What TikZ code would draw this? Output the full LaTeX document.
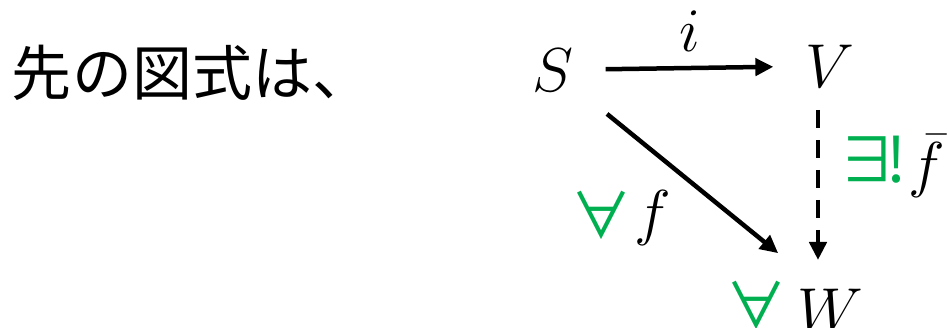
\RequirePackage{fix-cm}
\documentclass[tikz,border=0pt]{standalone}
\usepackage{fontspec}
\newfontfamily\jpfont{Noto Sans CJK JP}
\usetikzlibrary{arrows.meta}
\definecolor{qgreen}{RGB}{0,176,80}
\tikzset{
  obj/.style={inner sep=0pt,font=\fontsize{62}{70}\selectfont},
  lbl/.style={inner sep=0pt,font=\fontsize{62}{70}\selectfont},
  qsym/.style={inner sep=0pt,text=qgreen,font=\fontsize{62}{70}\selectfont\jpfont},
  arr/.style={line width=4.5pt,-{Triangle[length=18pt,width=17pt]}},
  dasharr/.style={arr,dash pattern=on 18pt off 12pt},
}
\begin{document}
\begin{tikzpicture}[x=1pt,y=-1pt]
\useasboundingbox (0,0) rectangle (949,328);
\node[inner sep=0pt,font=\fontsize{60}{68}\selectfont\jpfont] (title) at (192,73) {先の図式は、};
\node[obj] (S) at (553,70) {$S$};
\node[obj] (V) at (830,66) {$V$};
\node[obj] (W) at (830,310) {$W$};
\node[qsym] (allW) at (756,305) {∀};
\draw[arr,shorten <=43pt,shorten >=90pt] (S) -- ([xshift=18pt]W.center) coordinate (Wd);
\draw[arr,shorten <=32pt,shorten >=32pt] (S) -- (V) node[midway,above=14pt,lbl] (i) {$i$};
\draw[dasharr,shorten <=44pt,shorten >=50pt] ([xshift=-12pt]V.center) -- ([xshift=-12pt]W.center);
\node[qsym] (allf) at (601,215) {∀};
\node[lbl] (f) at (653,218) {$f$};
\node[qsym] (ex) at (871,160) {∃\kern-12pt!};
\node[lbl] (fbar) at (927,166) {$\bar{f}$};
\end{tikzpicture}
\end{document}
